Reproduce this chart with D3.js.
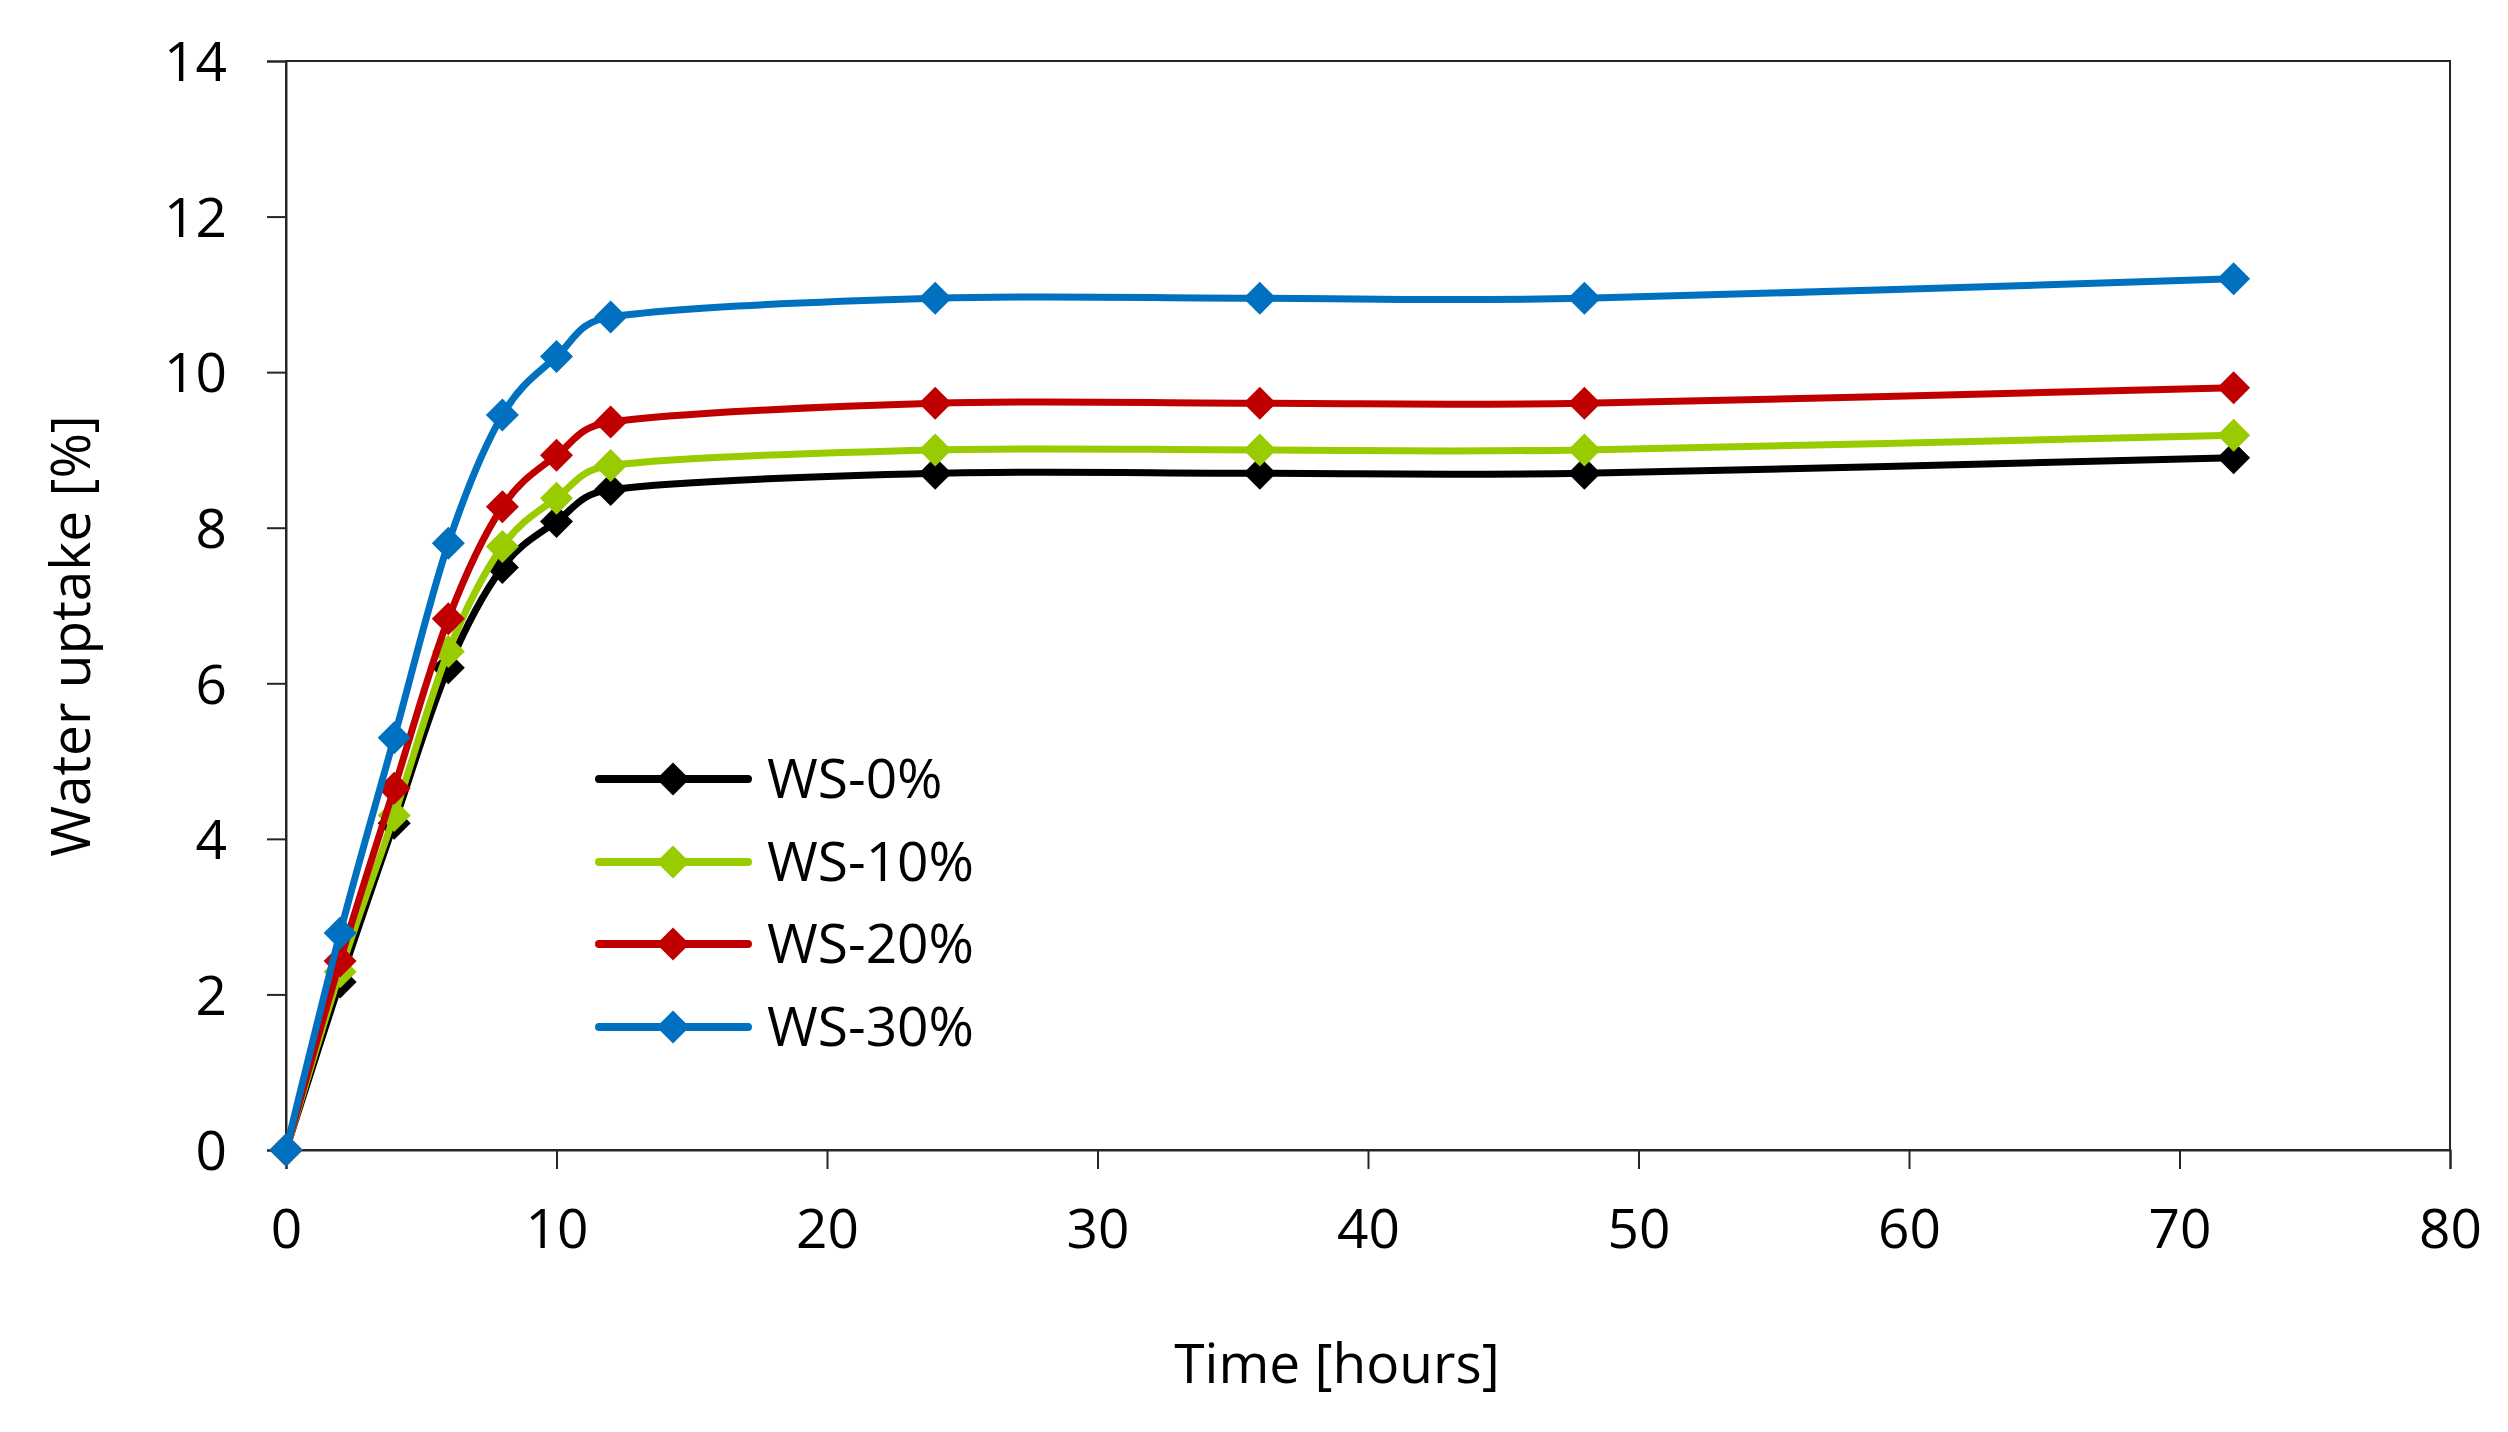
<!DOCTYPE html>
<html>
<head>
<meta charset="utf-8">
<script src="https://cdn.jsdelivr.net/npm/d3@7"></script>
<style>
  html, body { margin: 0; padding: 0; background: #ffffff; }
  svg { display: block; }
  text { font-family: "Open Sans", "Noto Sans", sans-serif; fill: #000; }
</style>
</head>
<body>
<svg id="chart" width="2508" height="1432"></svg>
<script>
// ---- Data ----
const hours = [0, 2, 4, 6, 8, 10, 12, 24, 36, 48, 72];
const seriesNames = ["WS-0%", "WS-10%", "WS-20%", "WS-30%"];
const ws0  = [0, 2.16, 4.2, 6.2, 7.49, 8.08, 8.49, 8.7, 8.7, 8.7, 8.9];
const ws10 = [0, 2.29, 4.3, 6.41, 7.76, 8.38, 8.8, 9.0, 9.0, 9.0, 9.19];
const ws20 = [0, 2.43, 4.65, 6.83, 8.27, 8.93, 9.36, 9.6, 9.6, 9.6, 9.8];
const ws30 = [0, 2.79, 5.3, 7.8, 9.45, 10.2, 10.71, 10.95, 10.95, 10.95, 11.2];
const seriesColors = ["#000000", "#99CC00", "#C00000", "#0070C0"];
const xTicks = [0, 10, 20, 30, 40, 50, 60, 70, 80];
const yTicks = [0, 2, 4, 6, 8, 10, 12, 14];
const xTitle = "Time [hours]";
const yTitle = "Water uptake [%]";

const allSeries = [ws0, ws10, ws20, ws30];

// ---- Layout ----
const plotLeft = 286, plotRight = 2450, plotTop = 61, plotBottom = 1150;
const svg = d3.select("#chart");

const x = d3.scaleLinear().domain([0, 80]).range([plotLeft, plotRight]);
const y = d3.scaleLinear().domain([0, 14]).range([plotBottom, plotTop]);

// Plot border
svg.append("rect")
  .attr("x", plotLeft).attr("y", plotTop)
  .attr("width", plotRight - plotLeft).attr("height", plotBottom - plotTop)
  .attr("fill", "none").attr("stroke", "#262626").attr("stroke-width", 2);

// Axes
const xAxis = d3.axisBottom(x).tickValues(xTicks).tickSize(19).tickPadding(40).tickFormat(d3.format("d"));
const yAxis = d3.axisLeft(y).tickValues(yTicks).tickSize(19).tickPadding(40).tickFormat(d3.format("d"));

const gx = svg.append("g").attr("transform", `translate(0,${plotBottom})`).call(xAxis);
const gy = svg.append("g").attr("transform", `translate(${plotLeft},0)`).call(yAxis);

[gx, gy].forEach(g => {
  g.select(".domain").attr("stroke", "#262626").attr("stroke-width", 2);
  g.selectAll(".tick line").attr("stroke", "#262626").attr("stroke-width", 2);
  g.selectAll(".tick text")
    .style("font-family", '"Open Sans", "Noto Sans", sans-serif')
    .style("font-size", "55px")
    .attr("fill", "#000");
});
gx.selectAll(".tick text").attr("dy", "0.71em");
gy.selectAll(".tick text").attr("dy", "0.36em");

// Axis titles
svg.append("text")
  .attr("x", 1337).attr("y", 1383)
  .attr("text-anchor", "middle")
  .style("font-size", "55px")
  .text(xTitle);

svg.append("text")
  .attr("transform", `translate(90,636) rotate(-90)`)
  .attr("text-anchor", "middle")
  .style("font-size", "55px")
  .text(yTitle);

// Excel-like smoothed curve: cardinal (1/6) control points, clamped to half the segment length
function ExcelSmooth(context) { this._context = context; }
ExcelSmooth.prototype = {
  areaStart() {}, areaEnd() {},
  lineStart() { this._pts = []; },
  point(px, py) { this._pts.push([+px, +py]); },
  lineEnd() {
    const p = this._pts, n = p.length, c = this._context;
    if (!n) return;
    c.moveTo(p[0][0], p[0][1]);
    const tan = i => {
      const a = p[Math.max(0, i - 1)], b = p[Math.min(n - 1, i + 1)];
      return [(b[0] - a[0]) / 6, (b[1] - a[1]) / 6];
    };
    const clamp = (t, len) => {
      const l = Math.hypot(t[0], t[1]), m = 0.5 * len;
      return l > m && l > 0 ? [t[0] * m / l, t[1] * m / l] : t;
    };
    for (let i = 0; i < n - 1; i++) {
      const a = p[i], b = p[i + 1];
      const len = Math.hypot(b[0] - a[0], b[1] - a[1]);
      const t1 = clamp(tan(i), len), t2 = clamp(tan(i + 1), len);
      c.bezierCurveTo(a[0] + t1[0], a[1] + t1[1], b[0] - t2[0], b[1] - t2[1], b[0], b[1]);
    }
  }
};
const curveExcel = ctx => new ExcelSmooth(ctx);

const line = d3.line()
  .x((d, i) => x(hours[i]))
  .y(d => y(d))
  .curve(curveExcel);

const diamond = (cx, cy, r) =>
  `M${cx},${cy - r}L${cx + r},${cy}L${cx},${cy + r}L${cx - r},${cy}Z`;

const plot = svg.append("g");
allSeries.forEach((vals, si) => {
  const g = plot.append("g");
  g.append("path")
    .attr("d", line(vals))
    .attr("fill", "none")
    .attr("stroke", seriesColors[si])
    .attr("stroke-width", 7)
    .attr("stroke-linejoin", "round");
  g.selectAll("path.marker")
    .data(vals)
    .join("path")
    .attr("class", "marker")
    .attr("d", (d, i) => diamond(x(hours[i]), y(d), 16.5))
    .attr("fill", seriesColors[si]);
});

// Legend
const legendRows = [779, 862, 944, 1027];
const legend = svg.append("g");
seriesNames.forEach((name, i) => {
  const cy = legendRows[i];
  legend.append("line")
    .attr("x1", 599).attr("x2", 748)
    .attr("y1", cy).attr("y2", cy)
    .attr("stroke", seriesColors[i])
    .attr("stroke-width", 8)
    .attr("stroke-linecap", "round");
  legend.append("path")
    .attr("d", diamond(673, cy, 16.5))
    .attr("fill", seriesColors[i]);
  legend.append("text")
    .attr("x", 767).attr("y", cy + 19)
    .style("font-size", "55px")
    .text(name);
});
</script>
</body>
</html>
